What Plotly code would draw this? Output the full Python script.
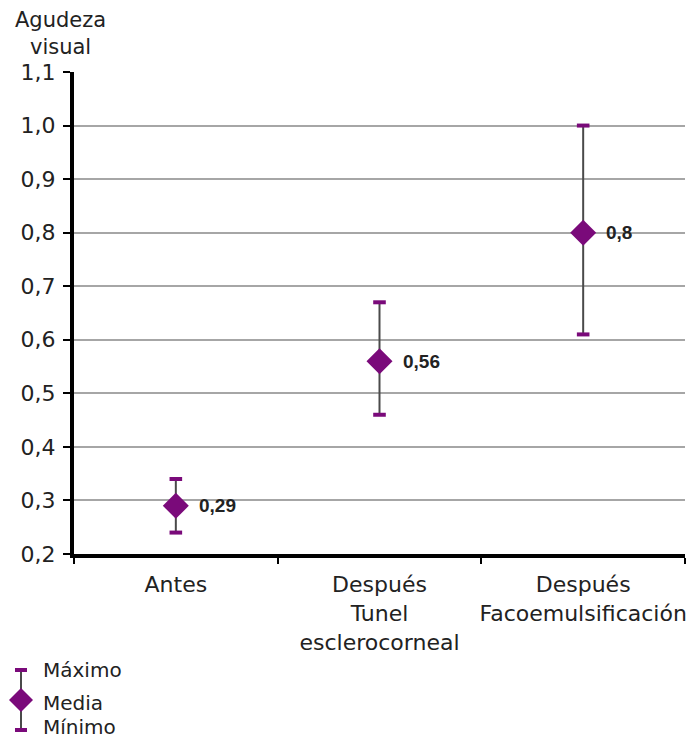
import plotly.graph_objects as go

categories = ["Antes", "Después<br>Tunel<br>esclerocorneal", "Después<br>Facoemulsificación"]
mean_vals = [0.29, 0.56, 0.80]
max_vals = [0.34, 0.67, 1.00]
min_vals = [0.24, 0.46, 0.61]
y_ticks = [0.2, 0.3, 0.4, 0.5, 0.6, 0.7, 0.8, 0.9, 1.0, 1.1]
legend_labels = ["Máximo", "Media", "Mínimo"]

W, H = 693, 738
PL, PR, PT, PB = 74, 685, 72, 554
PURPLE = "#7a0a7a"
FONT = "DejaVu Sans"
TXT = "#222222"

def px(x):
    return (x - PL) / (PR - PL)

def py(y):
    return (PB - y) / (PB - PT)

fig = go.Figure()

# vertical range lines
xs, ys = [], []
for c, lo, hi in zip(categories, min_vals, max_vals):
    xs += [c, c, None]
    ys += [lo, hi, None]
fig.add_trace(go.Scatter(x=xs, y=ys, mode="lines",
                         line=dict(color="#4a4a4a", width=2),
                         hoverinfo="skip", showlegend=False))
# caps
fig.add_trace(go.Scatter(x=categories + categories, y=max_vals + min_vals, mode="markers",
                         marker=dict(symbol="line-ew-open", size=9, color=PURPLE,
                                     line=dict(color=PURPLE, width=4)),
                         showlegend=False))
# means
fig.add_trace(go.Scatter(x=categories, y=mean_vals, mode="markers",
                         marker=dict(symbol="diamond", size=20, color=PURPLE,
                                     line=dict(width=0)),
                         showlegend=False))

annotations = []
for c, v in zip(categories, mean_vals):
    annotations.append(dict(x=c, y=v, xref="x", yref="y", text="<b>%s</b>" % ("%g" % v).replace(".", ","),
                            showarrow=False, xanchor="left", yanchor="middle", xshift=21,
                            font=dict(family="Liberation Sans", size=19, color=TXT)))

# y-axis title
annotations.append(dict(x=px(60), y=py(6), xref="paper", yref="paper",
                        text="Agudeza<br>visual", showarrow=False,
                        xanchor="center", yanchor="top", align="center",
                        font=dict(family=FONT, size=21, color=TXT)))

# custom legend
lx = 21
leg_top, leg_mid, leg_bot = 670, 700, 730
shapes = [
    dict(type="line", xref="paper", yref="paper", x0=px(lx), x1=px(lx), y0=py(leg_top), y1=py(leg_bot),
         line=dict(color="#4a4a4a", width=2)),
    dict(type="line", xref="paper", yref="paper", x0=px(lx - 6), x1=px(lx + 6), y0=py(leg_top), y1=py(leg_top),
         line=dict(color=PURPLE, width=4)),
    dict(type="line", xref="paper", yref="paper", x0=px(lx - 6), x1=px(lx + 6), y0=py(leg_bot), y1=py(leg_bot),
         line=dict(color=PURPLE, width=4)),
    dict(type="path", xref="paper", yref="paper",
         path="M %f %f L %f %f L %f %f L %f %f Z" % (px(lx - 12), py(leg_mid), px(lx), py(leg_mid - 12),
                                                    px(lx + 12), py(leg_mid), px(lx), py(leg_mid + 12)),
         fillcolor=PURPLE, line=dict(width=0)),
]
for lab, yy in zip(legend_labels, [670, 703, 727]):
    annotations.append(dict(x=px(41), y=py(yy), xref="paper", yref="paper", text=lab,
                            showarrow=False, xanchor="left", yanchor="middle",
                            font=dict(family=FONT, size=20, color=TXT)))

fig.update_layout(
    width=W, height=H,
    margin=dict(l=PL, r=W - PR, t=PT, b=H - PB, pad=0),
    paper_bgcolor="white", plot_bgcolor="white",
    separators=",.",
    showlegend=False,
    font=dict(family=FONT, size=22, color=TXT),
    annotations=annotations,
    shapes=shapes,
    xaxis=dict(type="category",
               categoryorder="array", categoryarray=categories,
               range=[-0.5, 2.5], automargin=False, tickangle=0,
               showgrid=False, showline=True, linecolor="black", linewidth=4,
               ticks="outside", tickson="boundaries", ticklen=6, tickcolor="black", tickwidth=1.5,
               ticklabelstandoff=8,
               tickfont=dict(family=FONT, size=22, color=TXT), zeroline=False),
    yaxis=dict(range=[0.2, 1.1], automargin=False,
               tickvals=y_ticks, tickformat=".1f",
               showgrid=True, gridcolor="#a6a6a6", gridwidth=1.5,
               showline=True, linecolor="black", linewidth=4,
               ticks="outside", ticklen=7, tickcolor="black", tickwidth=1.5,
               ticklabelstandoff=3,
               tickfont=dict(family=FONT, size=22, color=TXT), zeroline=False),
)

fig.write_html("out.html", config={"displayModeBar": False},
               post_script="document.body.style.margin='0';document.body.style.overflow='hidden';")
